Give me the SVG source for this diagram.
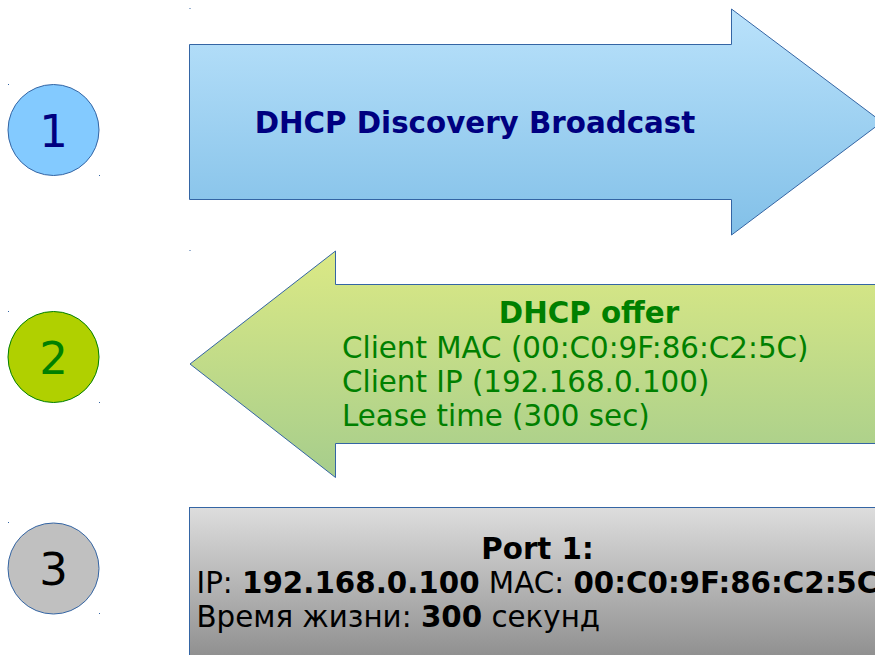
<svg xmlns="http://www.w3.org/2000/svg" width="875" height="655" viewBox="0 0 875 655">
<defs>
<linearGradient id="gBlue" x1="0" y1="0" x2="0" y2="1"><stop offset="0" stop-color="#bae2fb"/><stop offset="1" stop-color="#82c0e8"/></linearGradient>
<linearGradient id="gGreen" x1="0" y1="0" x2="0" y2="1"><stop offset="0" stop-color="#dbe985"/><stop offset="1" stop-color="#a6cd8c"/></linearGradient>
<linearGradient id="gGray" x1="0" y1="0" x2="0" y2="1"><stop offset="0" stop-color="#dddddd"/><stop offset="1" stop-color="#858585"/></linearGradient>
<style>
.shape{stroke:#3465a4;stroke-width:1}
.num{font-family:"DejaVu Sans",sans-serif;font-size:45px;text-anchor:middle}
.t{font-family:"DejaVu Sans",sans-serif;font-size:29.33px}
.b{font-weight:bold}
.dot{fill:#3465a4}
</style>
</defs>
<g id="marks">
<rect class="dot" x="189.5" y="8" width="1" height="1"/>
<rect class="dot" x="8" y="84" width="1" height="1"/>
<rect class="dot" x="99" y="175" width="1" height="1"/>
<rect class="dot" x="189.5" y="250" width="1" height="1"/>
<rect class="dot" x="8" y="311" width="1" height="1"/>
<rect class="dot" x="99" y="402" width="1" height="1"/>
<rect class="dot" x="8" y="522" width="1" height="1"/>
<rect class="dot" x="99" y="613" width="1" height="1"/>
</g>
<g id="n1">
<circle class="shape" cx="53.5" cy="130" r="45.5" fill="#83caff"/>
<text class="num" x="53.5" y="147" fill="#000080">1</text>
</g>
<g id="n2">
<circle cx="53.5" cy="357" r="45.5" fill="#b0d000" stroke="#008000" stroke-width="1"/>
<text class="num" x="53.5" y="373.5" fill="#008000">2</text>
</g>
<g id="n3">
<circle class="shape" cx="53.5" cy="568.5" r="45.5" fill="#c0c0c0"/>
<text class="num" x="53.5" y="585" fill="#000000">3</text>
</g>
<g id="discovery">
<path class="shape" fill="url(#gBlue)" d="M189.5,44.5 H731.5 V9 L882,122 L731.5,235 V199.5 H189.5 Z"/>
<text class="t b" x="475" y="133" text-anchor="middle" fill="#000080">DHCP Discovery Broadcast</text>
</g>
<g id="offer">
<path class="shape" fill="url(#gGreen)" d="M190,364 L335.5,251 V284.5 H900 V443.5 H335.5 V477.5 Z"/>
<text class="t b" x="589" y="322.5" text-anchor="middle" fill="#008000">DHCP offer</text>
<text class="t" x="342" y="357.5" fill="#008000">Client MAC (00:C0:9F:86:C2:5C)</text>
<text class="t" x="342" y="391.5" fill="#008000">Client IP (192.168.0.100)</text>
<text class="t" x="342" y="425.5" fill="#008000">Lease time (300 sec)</text>
</g>
<g id="port">
<rect class="shape" fill="url(#gGray)" x="189.5" y="507.5" width="720" height="170"/>
<text class="t b" x="537.5" y="558.5" text-anchor="middle" fill="#000">Port 1:</text>
<text class="t" x="196.5" y="592.5" fill="#000">IP: <tspan class="b">192.168.0.100</tspan> MAC: <tspan class="b">00:C0:9F:86:C2:5C</tspan></text>
<text class="t" x="196.5" y="626.5" fill="#000">Время жизни: <tspan class="b">300</tspan> секунд</text>
</g>
<g id="connectors"></g>
</svg>
